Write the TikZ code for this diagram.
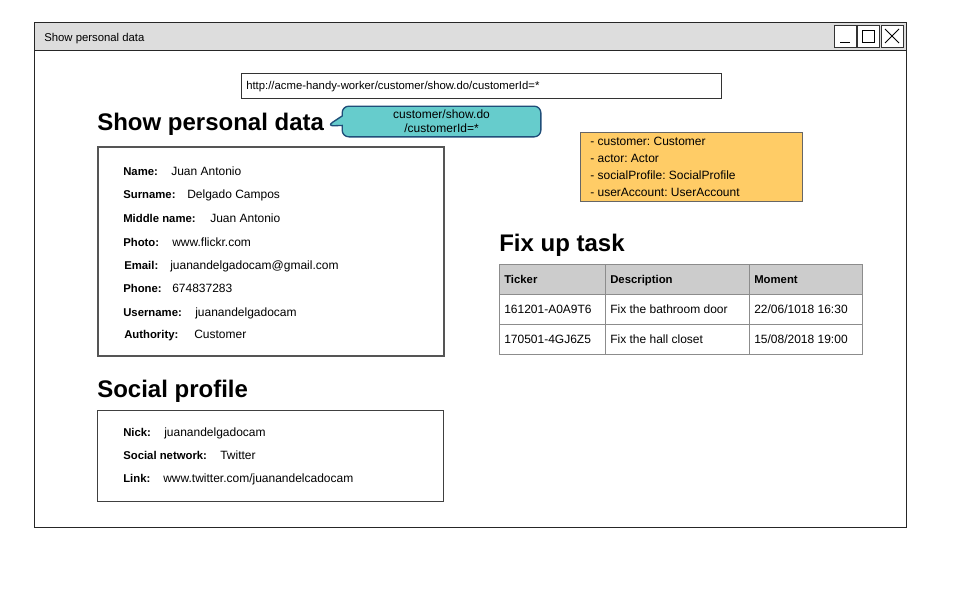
\documentclass[tikz,border=0pt]{standalone}
\usepackage{fontspec}
\setmainfont{Liberation Sans}
\frenchspacing
\usetikzlibrary{shapes.callouts}
\definecolor{titlegray}{HTML}{DDDDDD}
\definecolor{hdrgray}{HTML}{CCCCCC}
\definecolor{teal}{HTML}{66CCCC}
\definecolor{navy}{HTML}{1F4E79}
\definecolor{note}{HTML}{FFCC66}
\definecolor{edge}{HTML}{555555}
\tikzset{
  txt/.style={anchor=west,inner sep=0pt,text height=6.6pt,text depth=0pt,font=\fontsize{9}{10}\selectfont},
  lbl/.style={txt,font=\fontsize{8.5}{10}\selectfont\bfseries},
  heading/.style={anchor=west,inner sep=0pt,text height=13pt,text depth=0pt,font=\fontsize{18}{20}\selectfont\bfseries},
  frame/.style={draw=black!85,line width=0.7pt},
  btn/.style={draw=black!80,line width=0.7pt,fill=white,minimum width=16.5pt,minimum height=16.5pt,inner sep=0pt},
  cell/.style={txt},
  hcell/.style={txt,font=\fontsize{8.5}{10}\selectfont\bfseries},
}
\begin{document}
\begin{tikzpicture}[x=0.75pt,y=-0.75pt]
\useasboundingbox[fill=white] (0,0) rectangle (960,600);
% window
\draw[frame,fill=white] (34,22) rectangle (906,527);
\draw[frame,fill=titlegray] (34,22) rectangle (906,50);
\node[txt,font=\fontsize{8.5}{10}\selectfont] (title) at (44,37) {Show personal data};
\node[btn] (bmin) at (845,36) {};
\node[btn] (bmax) at (868,36) {};
\node[btn] (bclose) at (892,36) {};
\draw[line width=0.7pt] (840,42) -- (850,42);
\draw[line width=0.7pt] (862,30) rectangle (874,42);
\draw[line width=0.7pt] (885,29) -- (899,43) (899,29) -- (885,43);
% url
\node[draw=black!80,line width=0.7pt,anchor=north west,minimum width=360pt,minimum height=18.75pt,inner sep=0pt] (urlbox) at (241,73) {};
\node[txt,font=\fontsize{8.5}{10}\selectfont] (url) at (246,85.5) {http://acme-handy-worker/customer/show.do/customerId=*};
% heading
\node[heading] (h1) at (97,122) {Show personal data};
% callout
\node[rectangle callout,rounded corners=5pt,draw=navy,line width=1pt,fill=teal,minimum width=149pt,minimum height=23pt,inner sep=0pt,align=center,font=\fontsize{9}{10.5}\selectfont,callout absolute pointer={(327,126)}] (call) at (441.5,121.5) {customer/show.do\\/customerId=*};
% note
\node[draw=black!60,line width=0.7pt,fill=note,anchor=north west,minimum width=166.5pt,minimum height=51.75pt,inner sep=0pt] (notebox) at (580,132) {};
\node[txt] (n1) at (590,141) {- customer: Customer};
\node[txt] (n2) at (590,158) {- actor: Actor};
\node[txt] (n3) at (590,175) {- socialProfile: SocialProfile};
\node[txt] (n4) at (590,192) {- userAccount: UserAccount};
% personal data box
\node[draw=edge,line width=1.4pt,anchor=north west,minimum width=259.5pt,minimum height=156.75pt,inner sep=0pt] (pbox) at (97,146) {};
\node[lbl] (l1) at (123,171) {Name:};      \node[txt] (v1) at (171,171) {Juan Antonio};
\node[lbl] (l2) at (123,194) {Surname:};   \node[txt] (v2) at (187,194) {Delgado Campos};
\node[lbl] (l3) at (123,218) {Middle name:}; \node[txt] (v3) at (210,218) {Juan Antonio};
\node[lbl] (l4) at (123,242) {Photo:};     \node[txt] (v4) at (172,242) {www.flickr.com};
\node[lbl] (l5) at (124,265) {Email:};     \node[txt] (v5) at (170,265) {juanandelgadocam@gmail.com};
\node[lbl] (l6) at (123,288) {Phone:};     \node[txt] (v6) at (172,288) {674837283};
\node[lbl] (l7) at (123,312) {Username:};  \node[txt] (v7) at (195,312) {juanandelgadocam};
\node[lbl] (l8) at (124,334) {Authority:}; \node[txt] (v8) at (194,334) {Customer};
% fix up task
\node[heading] (h2) at (499,243) {Fix up task};
\fill[hdrgray] (499,264) rectangle (862,294);
\draw[black!45,line width=0.7pt] (499,264) rectangle (862,354);
\draw[black!45,line width=0.7pt] (499,294) -- (862,294) (499,324) -- (862,324) (605,264) -- (605,354) (749,264) -- (749,354);
\node[hcell] (t11) at (504,279.5) {Ticker};
\node[hcell] (t12) at (610,279.5) {Description};
\node[hcell] (t13) at (754,279.5) {Moment};
\node[cell] (t21) at (504,309) {161201-A0A9T6};
\node[cell] (t22) at (610,309) {Fix the bathroom door};
\node[cell] (t23) at (754,309) {22/06/1018 16:30};
\node[cell] (t31) at (504,339) {170501-4GJ6Z5};
\node[cell] (t32) at (610,339) {Fix the hall closet};
\node[cell] (t33) at (754,339) {15/08/2018 19:00};
% social profile
\node[heading] (h3) at (97,389) {Social profile};
\node[draw=black!75,line width=0.8pt,anchor=north west,minimum width=259.5pt,minimum height=68.25pt,inner sep=0pt] (sbox) at (97,410) {};
\node[lbl] (s1) at (123,432) {Nick:};           \node[txt] (w1) at (164,432) {juanandelgadocam};
\node[lbl] (s2) at (123,455) {Social network:}; \node[txt] (w2) at (220,455) {Twitter};
\node[lbl] (s3) at (123,478) {Link:};           \node[txt] (w3) at (163,478) {www.twitter.com/juanandelcadocam};
\end{tikzpicture}
\end{document}
